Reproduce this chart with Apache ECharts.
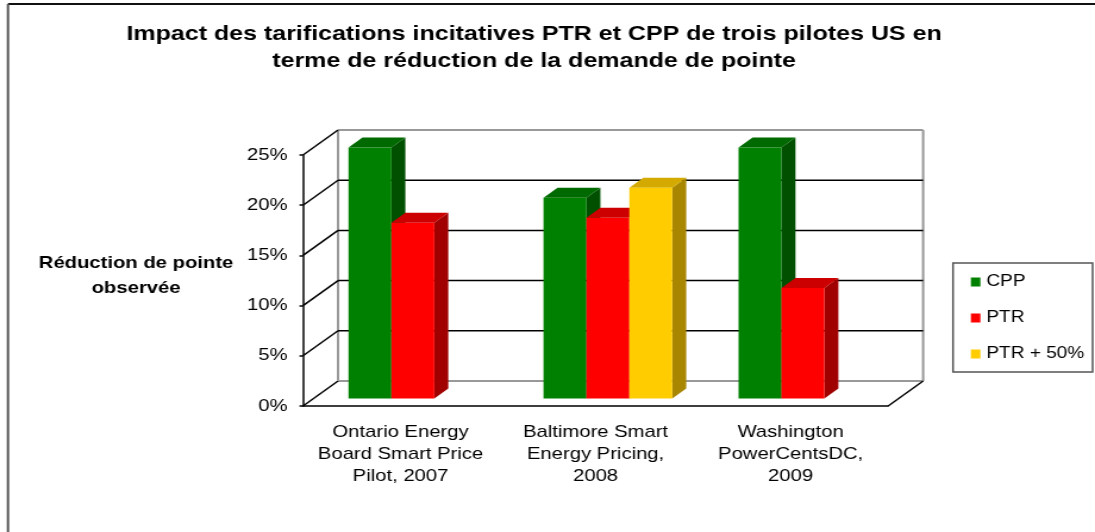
<!DOCTYPE html>
<html>
<head>
<meta charset="utf-8">
<script src="https://cdn.jsdelivr.net/npm/echarts@6/dist/echarts.min.js"></script>
<style>
  html, body { margin: 0; padding: 0; background: #fff; overflow: hidden; }
  /* the reference is stretched sideways, so the chart is drawn narrower and scaled */
  #chart { width: 920px; height: 532px; transform: scaleX(1.19022); transform-origin: 0 0; }
</style>
</head>
<body>
<div id="chart"></div>
<script>
// data
const categories = ['Ontario Energy\nBoard Smart Price\nPilot, 2007', 'Baltimore Smart\nEnergy Pricing,\n2008', 'Washington\nPowerCentsDC,\n2009']
const seriesNames = ['CPP', 'PTR', 'PTR + 50%']
const cppValues = [25, 20, 25]
const ptrValues = [17.5, 18, 11]
const ptr50Values = ['-', 21, '-']
const yTicks = [0, 5, 10, 15, 20, 25]

const FONT = '"Liberation Sans", Arial, sans-serif'
// 3d depth of the box and of the bars
const DX = 29.4
const DY = -25
const F0 = 0.3
const F1 = 0.7
const BAR_FRAC = 0.22

const faces = [
  { front: '#008000', top: '#006a00', side: '#005000' },
  { front: '#ff0000', top: '#cc0000', side: '#a00000' },
  { front: '#ffcc00', top: '#d4aa00', side: '#a88600' }
]

function toData(values) {
  return values.map((v, i) => [i, v])
}

// walls: back wall gridlines, left wall diagonals, floor
function renderWall(params, api) {
  const cs = params.coordSys
  const v = api.value(1)
  const p = api.coord([0, v])
  const y = p[1]
  const L = cs.x
  const R = cs.x + cs.width
  const edge = v === yTicks[0] || v === yTicks[yTicks.length - 1]
  const children = [
    {
      type: 'line',
      shape: { x1: L + DX, y1: y + DY, x2: R + DX, y2: y + DY },
      style: { stroke: edge ? '#999' : '#000', lineWidth: edge ? 2 : 1.5 }
    },
    {
      type: 'line',
      shape: { x1: L, y1: y, x2: L + DX, y2: y + DY },
      style: { stroke: '#000', lineWidth: 1.5 }
    }
  ]
  if (v === yTicks[0]) {
    const yTop = api.coord([0, yTicks[yTicks.length - 1]])[1]
    children.push(
      { type: 'line', shape: { x1: L + DX, y1: y + DY, x2: L + DX, y2: yTop + DY }, style: { stroke: '#999', lineWidth: 2 } },
      { type: 'line', shape: { x1: R + DX, y1: y + DY, x2: R + DX, y2: yTop + DY }, style: { stroke: '#999', lineWidth: 2 } },
      { type: 'line', shape: { x1: R, y1: y, x2: R + DX, y2: y + DY }, style: { stroke: '#000', lineWidth: 1.5 } }
    )
  }
  return { type: 'group', children: children }
}

function barRenderer(slot) {
  const c = faces[slot]
  return function (params, api) {
    const val = api.value(1)
    if (isNaN(val)) return null
    const cat = api.value(0)
    const base = api.coord([cat, 0])
    const top = api.coord([cat, val])
    const w = api.size([1, 0])[0] * BAR_FRAC
    const x0 = base[0] - w * 1.5 + slot * w + DX * F0 + 1.5
    const yb = base[1] + DY * F0
    const yt = top[1] + DY * F0
    const ddx = DX * (F1 - F0)
    const ddy = DY * (F1 - F0)
    return {
      type: 'group',
      children: [
        { type: 'polygon', shape: { points: [[x0 + w, yt], [x0 + w, yb], [x0 + w + ddx, yb + ddy], [x0 + w + ddx, yt + ddy]] }, style: { fill: c.side } },
        { type: 'polygon', shape: { points: [[x0, yt], [x0 + w, yt], [x0 + w + ddx, yt + ddy], [x0 + ddx, yt + ddy]] }, style: { fill: c.top } },
        { type: 'rect', shape: { x: x0, y: yt, width: w, height: yb - yt }, style: { fill: c.front } }
      ]
    }
  }
}

const chart = echarts.init(document.getElementById('chart'))

const option = {
  backgroundColor: '#fff',
  animation: false,
  title: {
    text: 'Impact des tarifications incitatives PTR et CPP de trois pilotes US en\nterme de réduction de la demande de pointe',
    left: 443.7,
    top: 16,
    textAlign: 'center',
    textStyle: { fontFamily: FONT, fontSize: 21, fontWeight: 'bold', color: '#000', lineHeight: 27 }
  },
  legend: {
    data: seriesNames,
    orient: 'vertical',
    left: 800.7,
    top: 263,
    icon: 'rect',
    itemWidth: 8,
    itemHeight: 9,
    itemGap: 20,
    padding: [11, 7, 10, 15],
    borderColor: '#555',
    borderWidth: 1.5,
    textStyle: { fontFamily: FONT, fontSize: 16, color: '#000' }
  },
  graphic: [
    { type: 'line', shape: { x1: 6.7, y1: 4, x2: 920, y2: 4 }, style: { stroke: '#111', lineWidth: 2 } },
    { type: 'line', shape: { x1: 6.7, y1: 4, x2: 6.7, y2: 532 }, style: { stroke: '#555', lineWidth: 2 } },
    {
      type: 'text',
      x: 114.3,
      y: 275.5,
      style: {
        text: 'Réduction de pointe\nobservée',
        align: 'center',
        verticalAlign: 'middle',
        fontFamily: FONT,
        fontSize: 17,
        fontWeight: 'bold',
        lineHeight: 25,
        fill: '#000'
      }
    }
  ],
  grid: { left: 254.6, right: 173.8, top: 155, bottom: 126 },
  xAxis: {
    type: 'category',
    data: categories,
    axisLine: { lineStyle: { color: '#000', width: 1.5 } },
    axisTick: { alignWithLabel: false, length: 5, lineStyle: { color: '#000', width: 1.5 } },
    axisLabel: { fontFamily: FONT, fontSize: 17, color: '#000', lineHeight: 22, margin: 15, interval: 0 }
  },
  yAxis: {
    type: 'value',
    min: 0,
    max: 25,
    interval: 5,
    axisLine: { show: true, lineStyle: { color: '#000', width: 1.5 } },
    axisTick: { show: true, length: 3, lineStyle: { color: '#000', width: 1.5 } },
    axisLabel: { fontFamily: FONT, fontSize: 17, color: '#000', margin: 13, formatter: '{value}%' },
    splitLine: { show: false }
  },
  series: [
    {
      name: 'walls',
      type: 'custom',
      z: 1,
      silent: true,
      renderItem: renderWall,
      data: yTicks.map(v => [0, v]),
      encode: { x: 0, y: 1 }
    },
    {
      name: seriesNames[0],
      type: 'custom',
      z: 3,
      itemStyle: { color: faces[0].front },
      renderItem: barRenderer(0),
      data: toData(cppValues),
      encode: { x: 0, y: 1 }
    },
    {
      name: seriesNames[1],
      type: 'custom',
      z: 3,
      itemStyle: { color: faces[1].front },
      renderItem: barRenderer(1),
      data: toData(ptrValues),
      encode: { x: 0, y: 1 }
    },
    {
      name: seriesNames[2],
      type: 'custom',
      z: 3,
      itemStyle: { color: faces[2].front },
      renderItem: barRenderer(2),
      data: toData(ptr50Values),
      encode: { x: 0, y: 1 }
    }
  ]
}

chart.setOption(option)
</script>
</body>
</html>
